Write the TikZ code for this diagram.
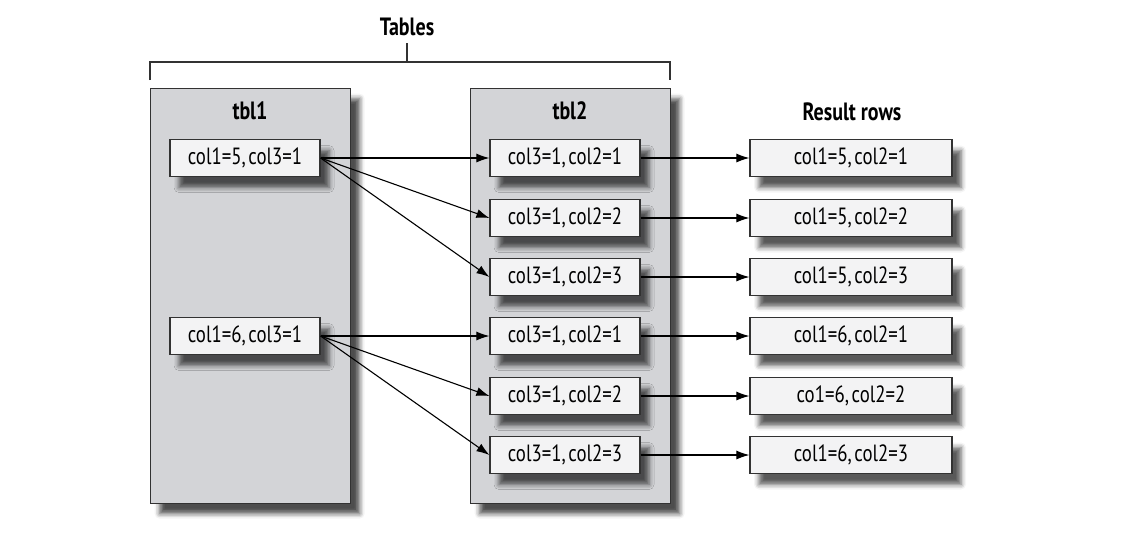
\documentclass[tikz,border=0pt]{standalone}
\usepackage{fontspec}
\setmainfont[FakeStretch=0.8]{PT Sans}
\newfontfamily\rowfont[FakeStretch=0.8, WordSpace=0.55]{PT Sans}
\usetikzlibrary{shadows.blur,arrows.meta}
\definecolor{tblgray}{RGB}{211,212,215}
\definecolor{rowfill}{RGB}{243,243,244}
\definecolor{edge}{RGB}{50,50,50}
\tikzset{
  tablebox/.style={draw=edge, line width=1.3pt, fill=tblgray, minimum width=200pt,
    minimum height=415pt, anchor=north west, inner sep=0pt,
    blur shadow={shadow xshift=9pt, shadow yshift=-10pt, shadow blur radius=5pt, shadow opacity=70}},
  rowbox/.style={draw=edge, line width=1.2pt, fill=rowfill, minimum width=150pt,
    minimum height=37pt, inner sep=0pt, font=\rowfont\fontsize{23.5}{26}\selectfont,
    blur shadow={shadow xshift=9pt, shadow yshift=-11pt, shadow blur radius=5pt, shadow opacity=65}},
  resbox/.style={rowbox, minimum width=202pt},
  heading/.style={font=\fontsize{25}{28}\selectfont\bfseries, inner sep=0pt},
  link/.style={draw=black, line width=1.1pt, -{Latex[length=13pt,width=9pt]}},
}
\begin{document}
\begin{tikzpicture}[x=1pt,y=-1pt]
\useasboundingbox (0,0) rectangle (1130,542);

% bracket spanning both tables
\node[heading] (tables) at (407,27) {Tables};
\coordinate (bl) at (150,80);
\coordinate (br) at (670,80);
\coordinate (bm) at (407,62);
\draw[edge, line width=1.2pt] (bl) |- (bm) -| (br);
\draw[edge, line width=1.2pt] (bm) -- (tables.south |- 0,43);

% the two tables
\node[tablebox] (t1) at (150,88) {};
\node[tablebox] (t2) at (470,88) {};
\node[heading] (h1) at (250,111) {tbl1};
\node[heading] (h2) at (570,111) {tbl2};
\node[heading] (h3) at (852,112) {Result rows};

% rows of tbl1
\node[rowbox] (a1) at (245,158) {col1=5, col3=1};
\node[rowbox] (a2) at (245,336) {col1=6, col3=1};

% rows of tbl2
\node[rowbox] (b1) at (565,158) {col3=1, col2=1};
\node[rowbox] (b2) at (565,218) {col3=1, col2=2};
\node[rowbox] (b3) at (565,277) {col3=1, col2=3};
\node[rowbox] (b4) at (565,336) {col3=1, col2=1};
\node[rowbox] (b5) at (565,396) {col3=1, col2=2};
\node[rowbox] (b6) at (565,455) {col3=1, col2=3};

% result rows
\node[resbox] (r1) at (851,158) {col1=5, col2=1};
\node[resbox] (r2) at (851,218) {col1=5, col2=2};
\node[resbox] (r3) at (851,277) {col1=5, col2=3};
\node[resbox] (r4) at (851,336) {col1=6, col2=1};
\node[resbox] (r5) at (851,396) {co1=6, col2=2};
\node[resbox] (r6) at (851,455) {col1=6, col2=3};

% join arrows
\draw[link] (a1.east) -- (b1.west);
\draw[link] (a1.east) -- (b2.west);
\draw[link] (a1.east) -- (b3.west);
\draw[link] (a2.east) -- (b4.west);
\draw[link] (a2.east) -- (b5.west);
\draw[link] (a2.east) -- (b6.west);
\foreach \i in {1,...,6} {
  \draw[link] (b\i.east) -- (r\i.west);
}
\end{tikzpicture}
\end{document}
